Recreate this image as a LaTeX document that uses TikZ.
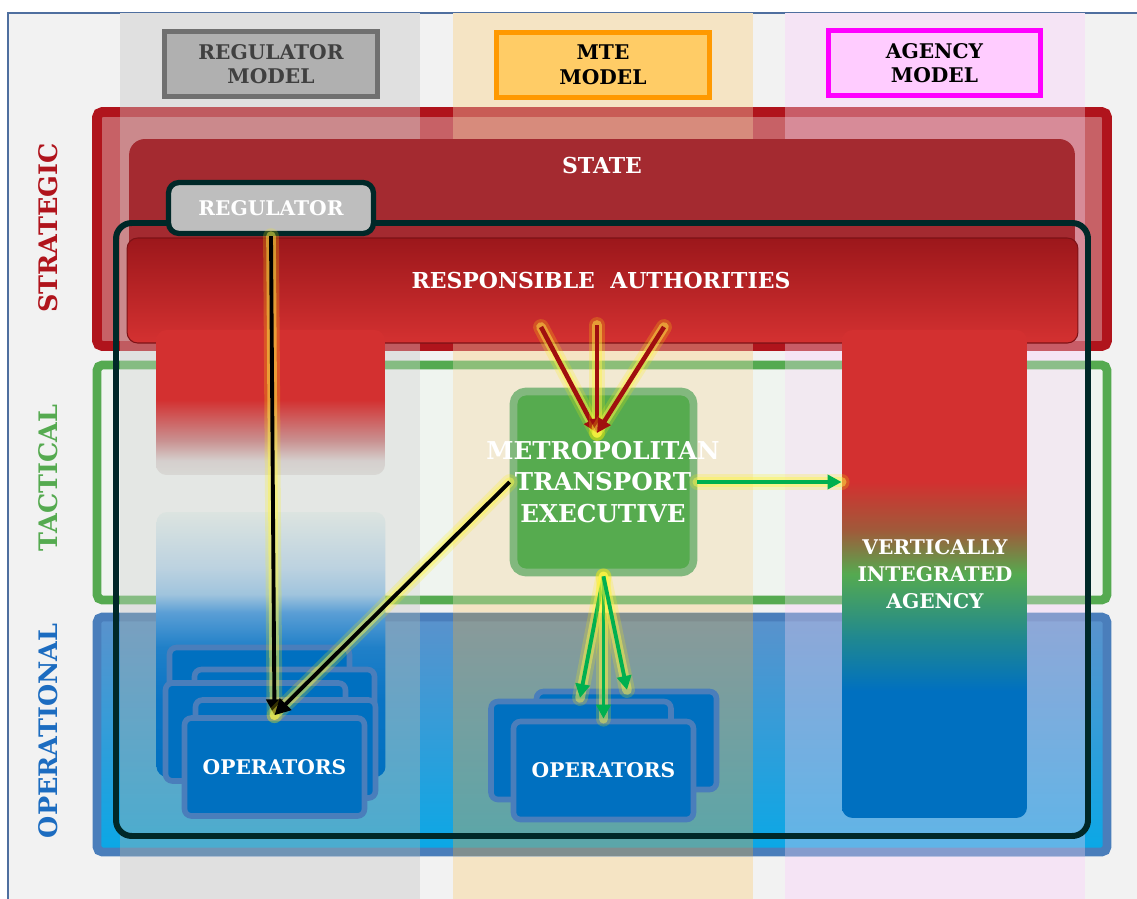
\documentclass[tikz,border=0pt]{standalone}
\usepackage{fontspec}
\setmainfont{DejaVu Serif}
\usetikzlibrary{arrows.meta,calc}

\definecolor{panel}{HTML}{F2F2F2}
\definecolor{panelline}{HTML}{4F6F9F}
\definecolor{colgrey}{HTML}{E0E0E0}
\definecolor{coltan}{HTML}{F5E4C4}
\definecolor{colpink}{HTML}{F5E4F5}
\definecolor{opgrey}{HTML}{AAB5AE}
\definecolor{optan}{HTML}{D2A64F}
\definecolor{oppink}{HTML}{DEC9EA}
\definecolor{regfill}{HTML}{B0B0B0}
\definecolor{regedge}{HTML}{707070}
\definecolor{regtext}{HTML}{404040}
\definecolor{mtefill}{HTML}{FFCC66}
\definecolor{mteedge}{HTML}{FF9900}
\definecolor{agfill}{HTML}{FFCCFF}
\definecolor{agedge}{HTML}{FF00FF}
\definecolor{stratred}{HTML}{B0141C}
\definecolor{tacgreen}{HTML}{55AA50}
\definecolor{opedge}{HTML}{4A7EBB}
\definecolor{opblue}{HTML}{0070C0}
\definecolor{oplabel}{HTML}{1C6CC0}
\definecolor{opbandtop}{HTML}{5A92CC}
\definecolor{opbandbot}{HTML}{0AA8E6}
\definecolor{statered}{HTML}{A42A30}
\definecolor{outline}{HTML}{002828}
\definecolor{ratop}{HTML}{9C171B}
\definecolor{rabot}{HTML}{D43131}
\definecolor{mtegreen}{HTML}{56AB4F}
\definecolor{mterim}{HTML}{82B87E}
\definecolor{arrowred}{HTML}{A00F0F}
\definecolor{arrowgreen}{HTML}{00B050}
\definecolor{pillarred}{HTML}{D33030}
\definecolor{pillarpink}{HTML}{C99090}
\definecolor{pillarpale}{HTML}{D5CFCD}
\definecolor{pillargrey}{HTML}{D8D8D4}
\definecolor{agbrown}{HTML}{A05A3A}
\definecolor{aggreen}{HTML}{55AA50}
\definecolor{agteal}{HTML}{208890}
\definecolor{bfA}{HTML}{DCE4E0}
\definecolor{bfB}{HTML}{BCD2E0}
\definecolor{bfC}{HTML}{A0C4DD}
\definecolor{bfD}{HTML}{5A9ED5}
\definecolor{bfE}{HTML}{2080C8}
\definecolor{bfF}{HTML}{0A74C4}

\pgfdeclareverticalshading{regfade}{100bp}{color(0bp)=(pillargrey); color(25bp)=(pillargrey); color(30bp)=(pillarpale); color(37bp)=(pillarpink); color(51bp)=(pillarred); color(100bp)=(pillarred)}
\pgfdeclareverticalshading{bluefade}{100bp}{color(0bp)=(opblue); color(25bp)=(opblue); color(39.5bp)=(bfF); color(49.5bp)=(bfE); color(56bp)=(bfD); color(59.5bp)=(bfC); color(64.5bp)=(bfB); color(75bp)=(bfA); color(100bp)=(bfA)}
\pgfdeclareverticalshading{agencyfade}{100bp}{color(0bp)=(opblue); color(38bp)=(opblue); color(43.5bp)=(agteal); color(50bp)=(aggreen); color(54.5bp)=(agbrown); color(59.5bp)=(pillarred); color(100bp)=(pillarred)}

\newcommand*{\opcard}[4]{%
\node[card] (#1) at (#2,#3) {#4};
}

\begin{document}
\begin{tikzpicture}[x=0.02cm,y=-0.02cm]
		\tikzset{
			basefont/.style = {font = \bfseries\fontsize{11.5}{14}\selectfont},
			header/.style = {basefont, draw, line width = 2.8pt, minimum width = 4.25cm, minimum height = 1.3cm, align = center},
			level/.style = {font = \bfseries\fontsize{14.5}{16}\selectfont, rotate = 90},
			card/.style = {basefont, white, fill = opblue, draw = opedge, line width = 3.2pt, rounded corners = 4pt, minimum width = 3.6cm, minimum height = 1.96cm},
			pillar/.style = {rounded corners = 6pt, inner sep = 0pt},
			glow/.style = {preaction = {draw = yellow, line width = 9pt, opacity = 0.2, line cap = round, -},
				preaction = {draw = yellow!70!white, line width = 5.5pt, opacity = 0.45, line cap = round, -}},
			blackarrow/.style = {glow, black, line width = 2.2pt, -{Triangle[length = 9pt, width = 9pt]}},
			redarrow/.style = {glow, arrowred, line width = 2.6pt, -{Triangle[length = 8pt, width = 8pt]}},
			greenarrow/.style = {glow, arrowgreen, line width = 2.2pt, -{Triangle[length = 8pt, width = 8pt]}},
		};

		\useasboundingbox (0,0) rectangle (1137,899);
		\fill[white] (0,0) rectangle (1137,899);
		\fill[panel] (8,13) rectangle (1137,899);
		\draw[panelline, line width = 0.8pt] (8,899) -- (8,13) -- (1137,13);

		% model columns
		\fill[colgrey] (120,13) rectangle (420,899);
		\fill[coltan] (453,13) rectangle (753,899);
		\fill[colpink] (785,13) rectangle (1085,899);

		% levels
		\draw[stratred, line width = 5.6pt, fill = stratred, fill opacity = 0.65, rounded corners = 3pt] (97,112) rectangle (1107,346);
		\draw[tacgreen, line width = 5pt, fill = tacgreen!10!white, fill opacity = 0.55, rounded corners = 3pt] (97,365) rectangle (1107,600);
		\draw[opedge, line width = 5pt, top color = opbandtop, bottom color = opbandbot, rounded corners = 3pt] (97,617) rectangle (1107,852);
		\fill[colgrey, opacity = 0.35] (120,100) rectangle (420,613);
		\fill[coltan, opacity = 0.35] (453,100) rectangle (753,613);
		\fill[colpink, opacity = 0.35] (785,100) rectangle (1085,613);
		\fill[opgrey, opacity = 0.4] (120,613) rectangle (420,856);
		\fill[optan, opacity = 0.4] (453,613) rectangle (753,856);
		\fill[oppink, opacity = 0.4] (785,613) rectangle (1085,856);

		\node[level, stratred] (strategic) at (48,228) {STRATEGIC};
		\node[level, tacgreen] (tactical) at (48,478) {TACTICAL};
		\node[level, oplabel] (operational) at (48,731) {OPERATIONAL};

		% state and authorities
		\node[fill = statered, rounded corners = 9pt, minimum width = 18.92cm, minimum height = 2.6cm] (state) at (602,204) {};
		\node[white, font = \bfseries\fontsize{12.5}{14}\selectfont] (statetext) at (602,166) {STATE};
		\draw[outline, line width = 3.4pt, rounded corners = 9pt] (116,223) rectangle (1088,836);
		\node[top color = ratop, bottom color = rabot, draw = ratop!80!black, line width = 0.6pt, rounded corners = 6pt, minimum width = 19.02cm, minimum height = 2.1cm] (ra) at (602.5,290.5) {};
		\node[white, font = \bfseries\fontsize{12.5}{14}\selectfont] (ratext) at (601,281) {RESPONSIBLE\ \ AUTHORITIES};
		\node[pillar, shading = regfade, minimum width = 4.58cm, minimum height = 2.9cm] (regpillar) at (270.5,402.5) {};
		\node[pillar, shading = bluefade, minimum width = 4.58cm, minimum height = 5.3cm] (oppillar) at (271,644.5) {};
		\node[pillar, shading = agencyfade, minimum width = 3.7cm, minimum height = 9.76cm] (via) at (934.5,574) {};
		\node[white, align = center, font = \bfseries\fontsize{11.5}{15.3}\selectfont] (viatext) at (935,574) {VERTICALLY\\INTEGRATED\\AGENCY};

		\node[basefont, white, fill = colgrey!85!black, draw = outline, line width = 3pt, rounded corners = 6pt, minimum width = 4.1cm, minimum height = 1.02cm] (reg) at (271,208) {REGULATOR};

		% mte
		\node[fill = mtegreen, draw = mterim, line width = 4.4pt, rounded corners = 7pt, minimum width = 3.6cm, minimum height = 3.62cm] (mte) at (603.5,482) {};
		\node[white, align = center, font = \bfseries\fontsize{14}{18}\selectfont] (mtetext) at (603,482) {METROPOLITAN\\TRANSPORT\\EXECUTIVE};

		% operators
		\opcard{opLa}{259.5}{696.5}{}
		\opcard{opLb}{284.5}{718.5}{}
		\opcard{opLc}{255.5}{732}{}
		\opcard{opLd}{285.5}{749}{}
		\opcard{opL}{274.5}{767}{OPERATORS}
		\opcard{opMa}{626.5}{740.5}{}
		\opcard{opMb}{581}{750.5}{}
		\opcard{opM}{603.5}{770.5}{OPERATORS}

		% links
		\coordinate (raA) at (541,327);
		\coordinate (raB) at (597,325);
		\coordinate (raC) at (664,327);
		\coordinate (mtein) at (597,433);
		\coordinate (opMl) at (580,698);
		\coordinate (opMr) at (627,690);
		\draw[blackarrow] (reg.south) -- (opL.north);
		\draw[blackarrow] (mte.west) -- (opL.north);
		\foreach \src in {raA, raB, raC}
			\draw[redarrow] (\src) -- (mtein);
		\draw[greenarrow] (mte.east) -- (mte.east -| via.west);
		\draw[greenarrow] (mte.south) -- (opMl);
		\draw[greenarrow] (mte.south) -- (opM.north);
		\draw[greenarrow] (mte.south) -- (opMr);

		% model headers
		\node[header, fill = regfill, draw = regedge, text = regtext] (regmodel) at (271,64) {REGULATOR\\MODEL};
		\node[header, fill = mtefill, draw = mteedge] (mtemodel) at (603,65) {MTE\\MODEL};
		\node[header, fill = agfill, draw = agedge] (agmodel) at (934.5,63) {AGENCY\\MODEL};
	\end{tikzpicture}
\end{document}
